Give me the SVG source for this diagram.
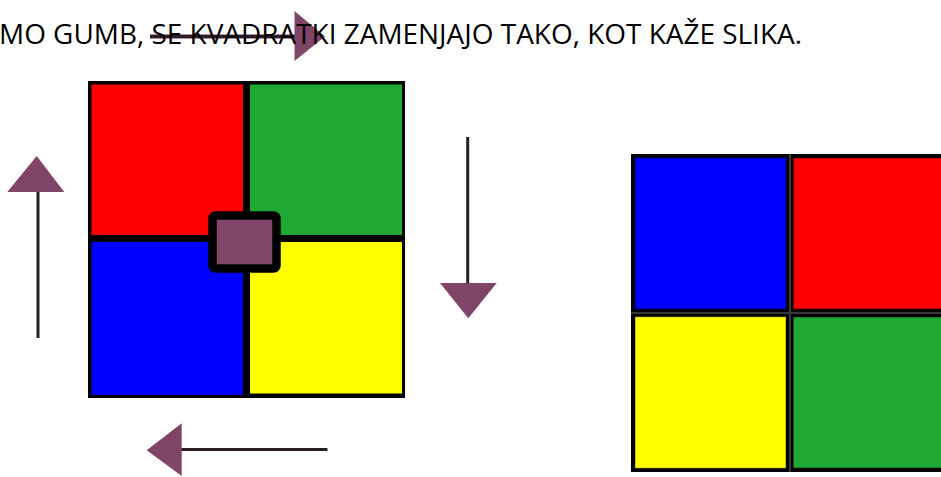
<svg xmlns="http://www.w3.org/2000/svg" width="941" height="477" viewBox="0 0 941 477">
  <defs>
    <style>
      .txt { font-family: "Open Sans", "Liberation Sans", sans-serif; font-size: 27.5px; fill: #000; }
      .shaft { stroke: #2a1d27; stroke-width: 3; fill: none; }
      .shaftGlow { stroke: #81456A; stroke-width: 5; fill: none; opacity: 0.6; }
      .head { fill: #7F4468; }
      .cell { stroke: rgba(0,0,0,0.45); stroke-width: 1; }
    </style>
  </defs>
  <rect width="941" height="477" fill="#fff"/>

  <g id="grid-before">
    <rect x="88" y="81" width="317" height="317" fill="#000"/>
    <rect id="red-before" x="91.5" y="84.5" width="151.5" height="150.5" fill="#FF0000"/>
    <rect id="green-before" x="250" y="84.5" width="152" height="150.5" fill="#1EA935"/>
    <rect id="blue-before" x="91.5" y="242" width="151.5" height="153" fill="#0000FF"/>
    <rect id="yellow-before" x="250" y="242" width="152" height="151.5" fill="#FFFF00"/>
  </g>

  <g id="button">
    <rect x="212.5" y="215.5" width="64" height="53" rx="3" fill="#81456A" stroke="#000" stroke-width="8.5"/>
  </g>

  <g id="grid-after">
    <rect x="631" y="154" width="320" height="318" fill="#000"/>
    <rect x="789" y="154" width="2" height="318" fill="#3a3a3a"/>
    <rect x="631" y="312" width="320" height="2" fill="#3a3a3a"/>
    <rect id="blue-after" class="cell" x="635" y="157.7" width="151" height="151.3" fill="#0000FF"/>
    <rect id="red-after" class="cell" x="793.3" y="158" width="152" height="151" fill="#FF0000"/>
    <rect id="yellow-after" class="cell" x="635" y="316.7" width="151" height="151.6" fill="#FFFF00"/>
    <rect id="green-after" class="cell" x="793.3" y="317" width="152" height="151" fill="#1EA935"/>
  </g>

  <g id="connectors">
    <g id="arrow-right">
      <line class="shaftGlow" x1="150" y1="36.5" x2="296" y2="36.5"/>
      <line class="shaft" x1="150" y1="36.5" x2="296" y2="36.5"/>
      <polygon class="head" points="294.5,11 294.5,61 325,36.5"/>
    </g>
    <g id="arrow-down">
      <line class="shaft" x1="467.7" y1="137" x2="467.7" y2="284"/>
      <polygon class="head" points="440,283 496.7,283 468.3,318.3"/>
    </g>
    <g id="arrow-left">
      <line class="shaft" x1="181" y1="449.5" x2="327.5" y2="449.5"/>
      <polygon class="head" points="146.7,450.3 181.7,423.3 181.7,476"/>
    </g>
    <g id="arrow-up">
      <line class="shaft" x1="38" y1="191" x2="38" y2="338"/>
      <polygon class="head" points="36.7,156 7.3,192 64.3,192"/>
    </g>
  </g>

  <g id="title">
    <text class="txt" x="-1" y="43.5" textLength="803" lengthAdjust="spacingAndGlyphs">MO GUMB, SE KVADRATKI ZAMENJAJO TAKO, KOT KAŽE SLIKA.</text>
  </g>
</svg>
